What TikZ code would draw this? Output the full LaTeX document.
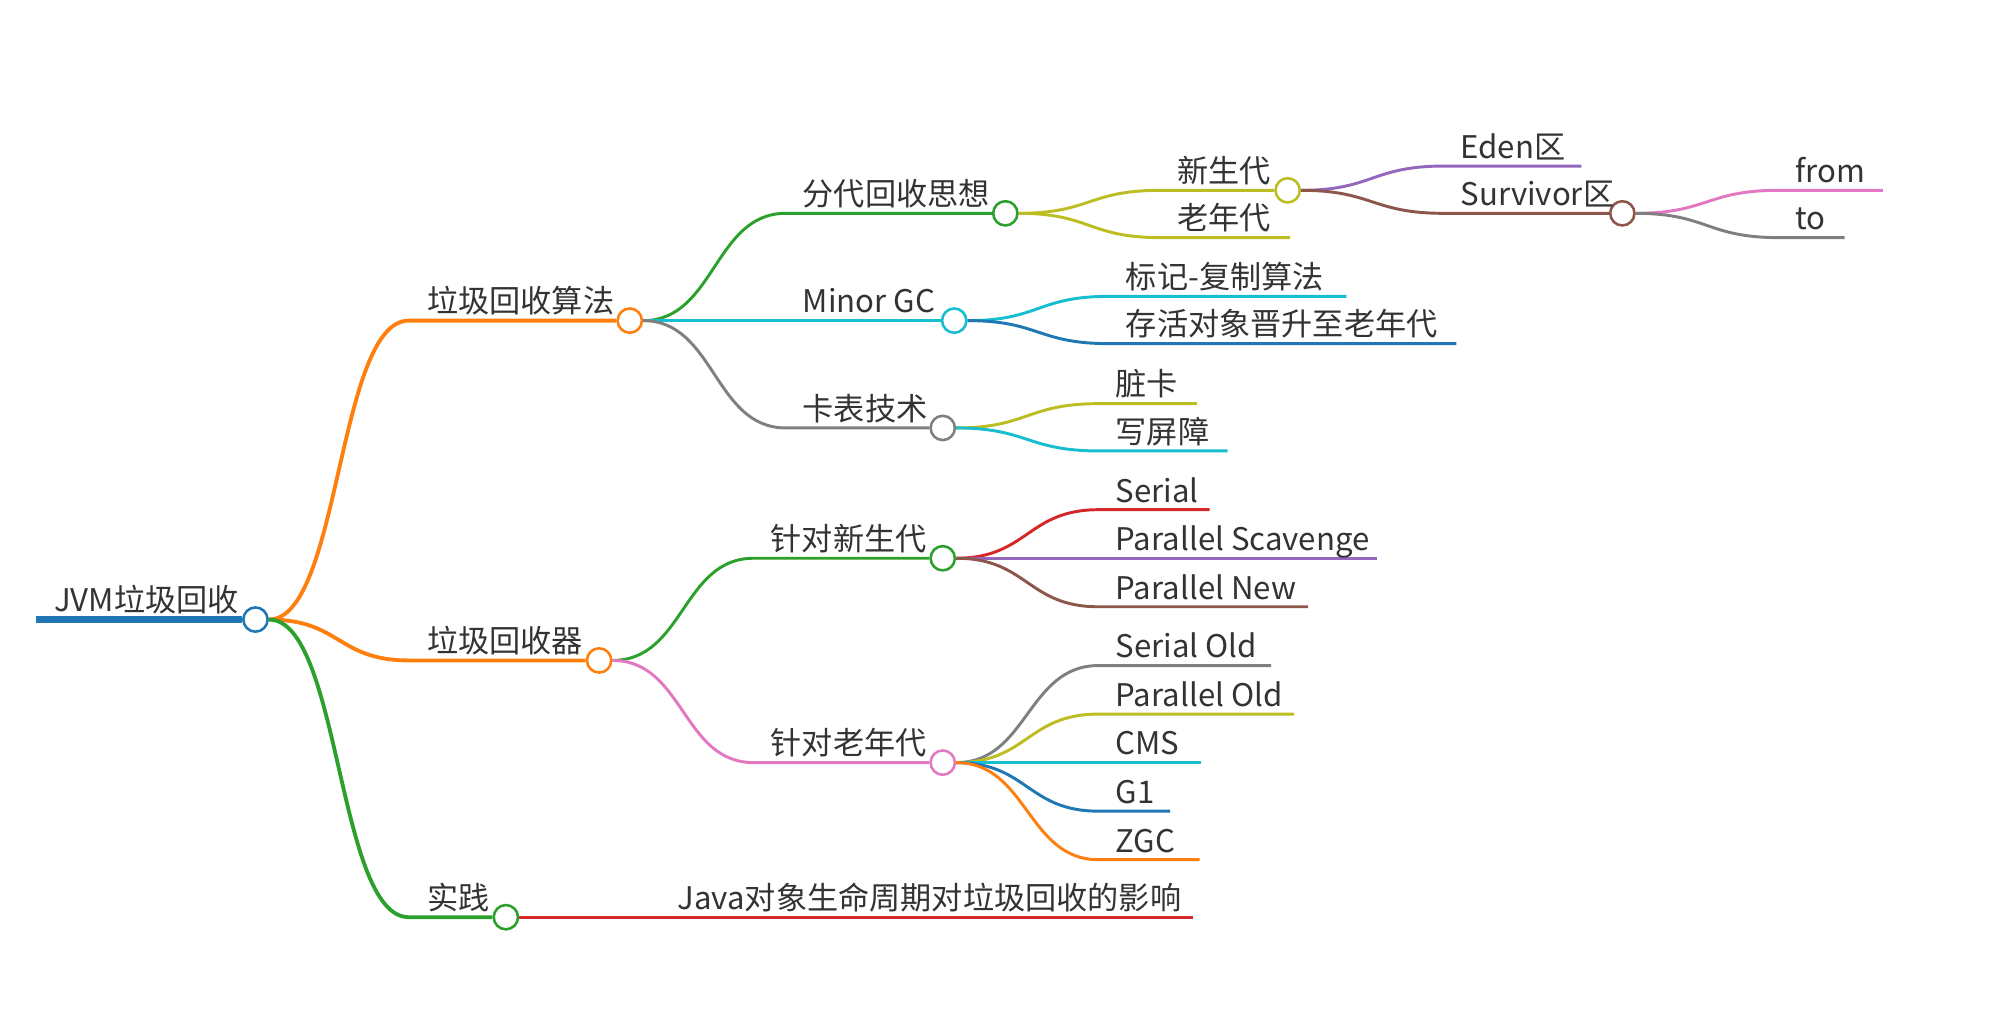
\documentclass[tikz,border=0pt]{standalone}
\usepackage{fontspec}
\setmainfont{Noto Sans CJK SC}
\usetikzlibrary{backgrounds}
\definecolor{mBlue}{HTML}{1F77B4}
\definecolor{mOrange}{HTML}{FF7F0E}
\definecolor{mGreen}{HTML}{2CA02C}
\definecolor{mRed}{HTML}{D62728}
\definecolor{mPurple}{HTML}{9467BD}
\definecolor{mBrown}{HTML}{8C564B}
\definecolor{mPink}{HTML}{E377C2}
\definecolor{mGray}{HTML}{7F7F7F}
\definecolor{mOlive}{HTML}{BCBD22}
\definecolor{mCyan}{HTML}{17BECF}
\begin{document}
\begin{tikzpicture}[
  x=0.5pt, y=-0.5pt,
  topic/.style={font=\fontsize{12.2}{14}\selectfont, anchor=base west, inner sep=0pt, text=black!80},
  knot/.style={circle, draw=#1, fill=white, line width=1pt, minimum size=9.5pt, inner sep=0pt},
  trunk/.style={draw=#1, line width=1.5pt},
  twig/.style={draw=#1, line width=1.15pt},
]
\useasboundingbox (0,0) rectangle (1568,807);

% root
\coordinate (root-s) at (28,485);
\node[knot=mBlue] (root) at (200,485) {};
\node[topic] (root-l) at (42,479) {JVM垃圾回收};

% first level
\coordinate (alg-s) at (320,251);
\node[knot=mOrange] (alg) at (493,251) {};
\node[topic] (alg-l) at (334,245) {垃圾回收算法};
\coordinate (col-s) at (320,517);
\node[knot=mOrange] (col) at (469,517) {};
\node[topic] (col-l) at (334,511) {垃圾回收器};
\coordinate (prac-s) at (320,718);
\node[knot=mGreen] (prac) at (396,718) {};
\node[topic] (prac-l) at (334,712) {实践};

% algorithms
\coordinate (gen-s) at (615,167);
\node[knot=mGreen] (gen) at (787,167) {};
\node[topic] (gen-l) at (628,161) {分代回收思想};
\coordinate (minor-s) at (615,251);
\node[knot=mCyan] (minor) at (747,251) {};
\node[topic] (minor-l) at (628,245) {Minor GC};
\coordinate (card-s) at (615,335);
\node[knot=mGray] (card) at (738,335) {};
\node[topic] (card-l) at (628,329) {卡表技术};

% generations
\coordinate (young-s) at (908,149);
\node[knot=mOlive] (young) at (1008,149) {};
\node[topic] (young-l) at (921,143) {新生代};
\coordinate (old-s) at (908,186);
\coordinate (old-e) at (1010,186);
\node[topic] (old-l) at (921,180) {老年代};
\coordinate (eden-s) at (1130,130);
\coordinate (eden-e) at (1238,130);
\node[topic] (eden-l) at (1143,124) {Eden区};
\coordinate (surv-s) at (1130,167);
\node[knot=mBrown] (surv) at (1270,167) {};
\node[topic] (surv-l) at (1143,161) {Survivor区};
\coordinate (from-s) at (1392,149);
\coordinate (from-e) at (1474,149);
\node[topic] (from-l) at (1405,143) {from};
\coordinate (to-s) at (1392,186);
\coordinate (to-e) at (1444,186);
\node[topic] (to-l) at (1405,180) {to};

% minor gc, card table
\coordinate (mcopy-s) at (868,232);
\coordinate (mcopy-e) at (1054,232);
\node[topic] (mcopy-l) at (881,226) {标记-复制算法};
\coordinate (promo-s) at (868,269);
\coordinate (promo-e) at (1140,269);
\node[topic] (promo-l) at (881,263) {存活对象晋升至老年代};
\coordinate (dirty-s) at (860,316);
\coordinate (dirty-e) at (937,316);
\node[topic] (dirty-l) at (873,310) {脏卡};
\coordinate (wbar-s) at (860,353);
\coordinate (wbar-e) at (961,353);
\node[topic] (wbar-l) at (873,347) {写屏障};

% collectors
\coordinate (ycol-s) at (590,437);
\node[knot=mGreen] (ycol) at (738,437) {};
\node[topic] (ycol-l) at (603,431) {针对新生代};
\coordinate (ocol-s) at (590,597);
\node[knot=mPink] (ocol) at (738,597) {};
\node[topic] (ocol-l) at (603,591) {针对老年代};

\coordinate (serial-s) at (860,399);
\coordinate (serial-e) at (947,399);
\node[topic] (serial-l) at (873,393) {Serial};
\coordinate (pscav-s) at (860,437);
\coordinate (pscav-e) at (1078,437);
\node[topic] (pscav-l) at (873,431) {Parallel Scavenge};
\coordinate (pnew-s) at (860,475);
\coordinate (pnew-e) at (1024,475);
\node[topic] (pnew-l) at (873,469) {Parallel New};

\coordinate (sold-s) at (860,521);
\coordinate (sold-e) at (995,521);
\node[topic] (sold-l) at (873,515) {Serial Old};
\coordinate (pold-s) at (860,559);
\coordinate (pold-e) at (1013,559);
\node[topic] (pold-l) at (873,553) {Parallel Old};
\coordinate (cms-s) at (860,597);
\coordinate (cms-e) at (940,597);
\node[topic] (cms-l) at (873,591) {CMS};
\coordinate (gone-s) at (860,635);
\coordinate (gone-e) at (916,635);
\node[topic] (gone-l) at (873,629) {G1};
\coordinate (zgc-s) at (860,673);
\coordinate (zgc-e) at (939,673);
\node[topic] (zgc-l) at (873,667) {ZGC};

% practice
\coordinate (life-s) at (517,718);
\coordinate (life-e) at (934,718);
\node[topic] (life-l) at (530,712) {Java对象生命周期对垃圾回收的影响};

% connectors behind the knots
\begin{scope}[on background layer]
\draw[mBlue, line width=2.6pt] (root-s) -- (root);
\draw[trunk=mOrange] (root.east) .. controls +(56,0) and +(-56,0) .. (alg-s) -- (alg);
\draw[trunk=mOrange] (root.east) .. controls +(56,0) and +(-56,0) .. (col-s) -- (col);
\draw[trunk=mGreen] (root.east) .. controls +(56,0) and +(-56,0) .. (prac-s) -- (prac);

\draw[twig=mGreen] (alg.east) .. controls +(56,0) and +(-56,0) .. (gen-s) -- (gen);
\draw[twig=mCyan] (alg.east) -- (minor-s) -- (minor);
\draw[twig=mGray] (alg.east) .. controls +(56,0) and +(-56,0) .. (card-s) -- (card);

\draw[twig=mOlive] (gen.east) .. controls +(56,0) and +(-56,0) .. (young-s) -- (young);
\draw[twig=mOlive] (gen.east) .. controls +(56,0) and +(-56,0) .. (old-s) -- (old-e);
\draw[twig=mPurple] (young.east) .. controls +(56,0) and +(-56,0) .. (eden-s) -- (eden-e);
\draw[twig=mBrown] (young.east) .. controls +(56,0) and +(-56,0) .. (surv-s) -- (surv);
\draw[twig=mPink] (surv.east) .. controls +(56,0) and +(-56,0) .. (from-s) -- (from-e);
\draw[twig=mGray] (surv.east) .. controls +(56,0) and +(-56,0) .. (to-s) -- (to-e);

\draw[twig=mCyan] (minor.east) .. controls +(56,0) and +(-56,0) .. (mcopy-s) -- (mcopy-e);
\draw[twig=mBlue] (minor.east) .. controls +(56,0) and +(-56,0) .. (promo-s) -- (promo-e);
\draw[twig=mOlive] (card.east) .. controls +(56,0) and +(-56,0) .. (dirty-s) -- (dirty-e);
\draw[twig=mCyan] (card.east) .. controls +(56,0) and +(-56,0) .. (wbar-s) -- (wbar-e);

\draw[twig=mGreen] (col.east) .. controls +(56,0) and +(-56,0) .. (ycol-s) -- (ycol);
\draw[twig=mPink] (col.east) .. controls +(56,0) and +(-56,0) .. (ocol-s) -- (ocol);

\draw[twig=mRed] (ycol.east) .. controls +(56,0) and +(-56,0) .. (serial-s) -- (serial-e);
\draw[twig=mPurple] (ycol.east) -- (pscav-s) -- (pscav-e);
\draw[twig=mBrown] (ycol.east) .. controls +(56,0) and +(-56,0) .. (pnew-s) -- (pnew-e);

\draw[twig=mGray] (ocol.east) .. controls +(56,0) and +(-56,0) .. (sold-s) -- (sold-e);
\draw[twig=mOlive] (ocol.east) .. controls +(56,0) and +(-56,0) .. (pold-s) -- (pold-e);
\draw[twig=mCyan] (ocol.east) -- (cms-s) -- (cms-e);
\draw[twig=mBlue] (ocol.east) .. controls +(56,0) and +(-56,0) .. (gone-s) -- (gone-e);
\draw[twig=mOrange] (ocol.east) .. controls +(56,0) and +(-56,0) .. (zgc-s) -- (zgc-e);

\draw[twig=mRed] (prac.east) -- (life-s) -- (life-e);
\end{scope}
\end{tikzpicture}
\end{document}
